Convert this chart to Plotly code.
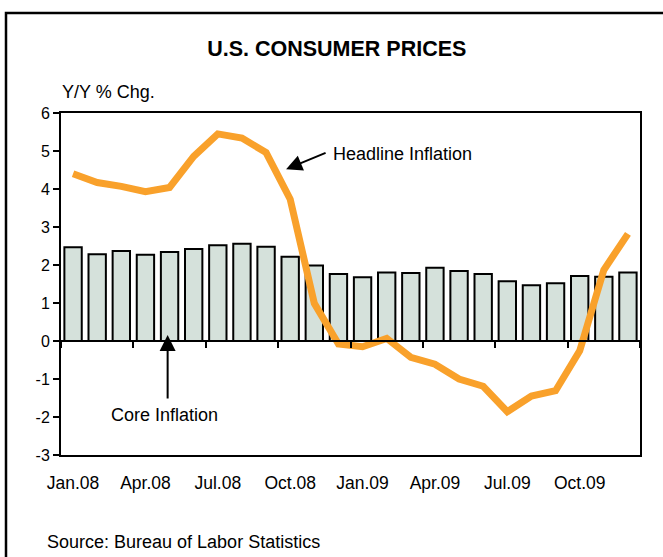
import plotly.graph_objects as go

months = ["Jan.08", "Feb.08", "Mar.08", "Apr.08", "May.08", "Jun.08",
          "Jul.08", "Aug.08", "Sep.08", "Oct.08", "Nov.08", "Dec.08",
          "Jan.09", "Feb.09", "Mar.09", "Apr.09", "May.09", "Jun.09",
          "Jul.09", "Aug.09", "Sep.09", "Oct.09", "Nov.09", "Dec.09"]

core_inflation = [2.47, 2.28, 2.37, 2.27, 2.34, 2.42, 2.52, 2.56, 2.48, 2.22, 1.99, 1.76,
                  1.68, 1.80, 1.79, 1.93, 1.84, 1.76, 1.57, 1.47, 1.52, 1.71, 1.69, 1.80]

headline_inflation = [4.40, 4.17, 4.07, 3.93, 4.04, 4.86, 5.45, 5.34, 4.96, 3.73, 0.99, -0.08,
                      -0.15, 0.07, -0.43, -0.61, -1.00, -1.19, -1.86, -1.45, -1.31, -0.26, 1.87, 2.82]

y_ticks = [-3, -2, -1, 0, 1, 2, 3, 4, 5, 6]
y_tick_labels = ["-3", "-2", "-1", "0", "1", "2", "3", "4", "5", "6"]

FONT = "Liberation Sans, Arial, sans-serif"

fig = go.Figure()
fig.add_trace(go.Bar(
    x=months, y=core_inflation, width=0.72,
    marker=dict(color="#D5E1DB", line=dict(color="black", width=2)),
    xaxis="x", yaxis="y", showlegend=False, hoverinfo="skip"))
fig.add_trace(go.Scatter(
    x=months, y=headline_inflation, mode="lines",
    line=dict(color="#F9A12B", width=7),
    xaxis="x2", yaxis="y", showlegend=False, hoverinfo="skip"))

fig.update_layout(
    width=663, height=557,
    margin=dict(l=61, r=23, t=113, b=102),
    paper_bgcolor="white", plot_bgcolor="white",
    font=dict(family=FONT, color="black"),
    title=dict(text="<b>U.S. CONSUMER PRICES</b>", font=dict(size=21.5, family=FONT, color="black"),
               x=0.508, xref="container", xanchor="center",
               y=1 - 48 / 557, yref="container", yanchor="middle"),
    xaxis=dict(type="category", categoryorder="array", categoryarray=months,
               range=[-0.5, 23.5], showline=True, linecolor="black", linewidth=2,
               mirror=True, ticks="outside", ticklen=11, tickcolor="rgba(0,0,0,0)",
               tickmode="linear", tick0=0, dtick=3, tickfont=dict(size=17.5),
               showgrid=False, zeroline=False, fixedrange=True),
    xaxis2=dict(type="category", categoryorder="array", categoryarray=months,
                overlaying="x", anchor="free", position=1 / 3,
                range=[-0.5, 23.5], showline=True, linecolor="black", linewidth=2,
                ticks="outside", tickson="boundaries", tickmode="linear", tick0=0, dtick=3,
                ticklen=6, tickwidth=2, tickcolor="black", showticklabels=False,
                showgrid=False, zeroline=False, fixedrange=True),
    yaxis=dict(range=[-3, 6], tickmode="array", tickvals=y_ticks, ticktext=y_tick_labels,
               ticks="outside", ticklen=6, tickwidth=2, tickcolor="black",
               showline=True, linecolor="black", linewidth=2, mirror=True,
               tickfont=dict(size=16), showgrid=False, zeroline=False, fixedrange=True),
    shapes=[dict(type="rect", xref="paper", yref="paper",
                 x0=(6 - 61) / 579, x1=1.1, y0=-0.5, y1=(455 - 13) / 342,
                 line=dict(color="black", width=2.5), fillcolor="rgba(0,0,0,0)")],
    annotations=[
        dict(x=8.83, y=4.52, xref="x", yref="y", text="", showarrow=True,
             ax=41, ay=-17, arrowhead=2, arrowsize=1.6, arrowwidth=2, arrowcolor="black"),
        dict(x=10.69, y=4.93, xref="x", yref="y", text="Headline Inflation", showarrow=False,
             xanchor="left", yanchor="middle", font=dict(size=18)),
        dict(x=3.92, y=0.16, xref="x", yref="y", text="", showarrow=True,
             ax=0, ay=65, arrowhead=2, arrowsize=1.6, arrowwidth=2, arrowcolor="black"),
        dict(x=3.81, y=-1.95, xref="x", yref="y", text="Core Inflation", showarrow=False,
             xanchor="center", yanchor="middle", font=dict(size=18)),
        dict(x=(60 - 61) / 579, y=(455 - 92) / 342, xref="paper", yref="paper",
             text="Y/Y % Chg.", showarrow=False, xanchor="left", yanchor="middle",
             font=dict(size=18)),
        dict(x=(45 - 61) / 579, y=(455 - 542) / 342, xref="paper", yref="paper",
             text="Source: Bureau of Labor Statistics", showarrow=False,
             xanchor="left", yanchor="middle", font=dict(size=18)),
    ],
)

fig.write_html("out.html", config={"displayModeBar": False},
               post_script="document.body.style.margin='0';document.body.style.padding='0';")
